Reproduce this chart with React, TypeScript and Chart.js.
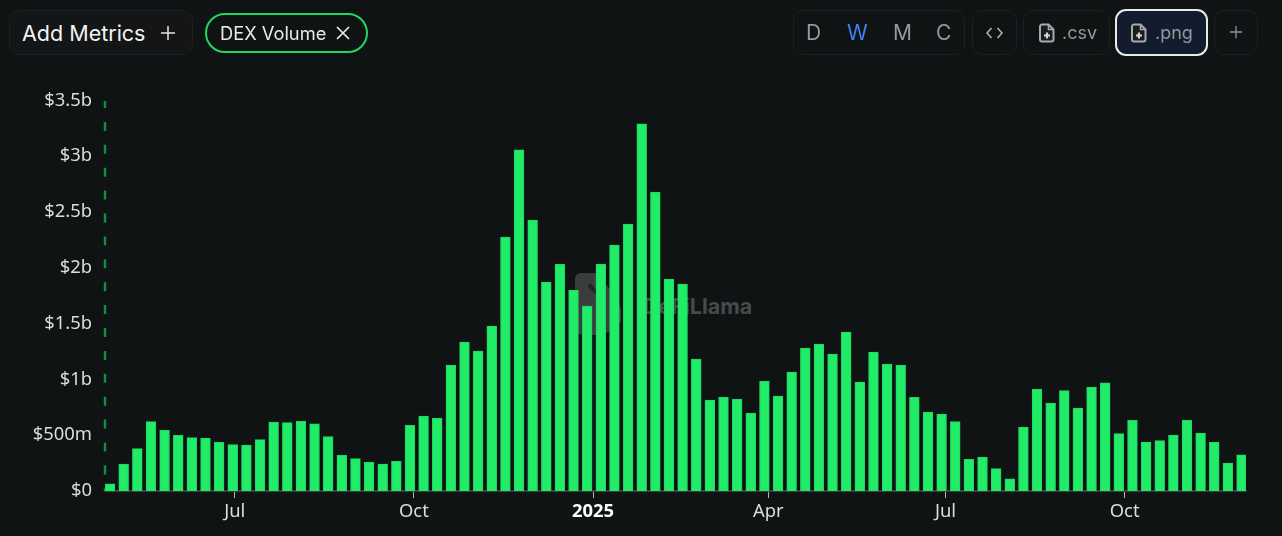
import React, { useEffect, useRef } from "react";
import { Chart, registerables } from "chart.js";

Chart.register(...registerables);

// Days since the first weekly bar (28 Apr 2024)
const weekDays = Array.from({ length: 84 }, (_, i) => i * 7);
const dexVolumeM = [
  65, 242, 379, 621, 544, 499, 478, 475, 436, 415, 412, 460, 618, 612, 624, 603, 487, 320, 290, 257, 242,
  266, 588, 672, 654, 1129, 1335, 1254, 1478, 2276, 3056, 2428, 1873, 2034, 1801, 1658, 2034, 2204, 2392,
  3289, 2679, 1900, 1855, 1183, 815, 842, 824, 699, 986, 851, 1066, 1281, 1317, 1228, 1425, 977, 1245, 1138,
  1129, 839, 708, 690, 621, 284, 305, 200, 108, 573, 914, 788, 899, 744, 932, 970, 514, 633, 439, 451, 502,
  633, 520, 436, 251, 325,
];
const xTickDays = [64, 156, 248, 338, 429, 521];
const xTickLabels = ["Jul", "Oct", "2025", "Apr", "Jul", "Oct"];
const yTickValues = [0, 500, 1000, 1500, 2000, 2500, 3000, 3500];
const yTickLabels = ["$0", "$500m", "$1b", "$1.5b", "$2b", "$2.5b", "$3b", "$3.5b"];
const intervals = ["D", "W", "M", "C"];

const FONT = "'Noto Sans', sans-serif";
const UI = "Inter, sans-serif";
const BG = "#101313";

const dashedAxis = {
  id: "dashedAxis",
  beforeDatasetsDraw(chart: any) {
    const { ctx, chartArea } = chart;
    ctx.save();
    ctx.strokeStyle = "#0f8f40";
    ctx.lineWidth = 2.4;
    ctx.setLineDash([9, 13.9]);
    ctx.lineDashOffset = 2;
    ctx.beginPath();
    ctx.moveTo(chartArea.left, chartArea.top + 0.6);
    ctx.lineTo(chartArea.left, chartArea.bottom);
    ctx.stroke();
    ctx.restore();
  },
};

const box = (left: number, top: number, width: number, height: number, extra: React.CSSProperties = {}): React.CSSProperties => ({
  position: "absolute",
  left,
  top,
  width,
  height,
  boxSizing: "border-box",
  border: "1px solid #1d2022",
  borderRadius: 10,
  ...extra,
});

const label = (left: number, top: number, text: string, style: React.CSSProperties = {}) => (
  <span
    key={text + left}
    style={{
      position: "absolute",
      left,
      top,
      fontFamily: UI,
      fontSize: 18,
      lineHeight: "24px",
      color: "#96999c",
      whiteSpace: "nowrap",
      ...style,
    }}
  >
    {text}
  </span>
);

const FileIcon = ({ left }: { left: number }) => (
  <svg style={{ position: "absolute", left, top: 23 }} width="16" height="20" viewBox="0 0 16 20" fill="none">
    <path d="M3 1.5h6.5l5 5v10a2 2 0 0 1-2 2H3a2 2 0 0 1-2-2v-13a2 2 0 0 1 2-2z" stroke="#a8abae" strokeWidth="2" fill="#1a1c1e" />
    <path d="M9.5 1.5v5h5" stroke="#a8abae" strokeWidth="1.6" />
    <path d="M8 9.5v6M5 12.5h6" stroke="#d5d6d7" strokeWidth="2.2" />
  </svg>
);

const Plus = ({ left, top, size, color }: { left: number; top: number; size: number; color: string }) => (
  <svg style={{ position: "absolute", left, top }} width={size} height={size} viewBox="0 0 16 16">
    <path d="M8 1v14M1 8h14" stroke={color} strokeWidth="1.5" />
  </svg>
);

export default function App() {
  const ref = useRef<HTMLCanvasElement>(null);

  useEffect(() => {
    document.body.style.margin = "0";
    document.body.style.background = BG;
    const chart = new Chart(ref.current as HTMLCanvasElement, {
      type: "bar",
      data: {
        datasets: [
          {
            label: "DEX Volume",
            data: weekDays.map((d, i) => ({ x: d, y: dexVolumeM[i] })),
            backgroundColor: "#20ec67",
            borderColor: "#1fd661",
            borderWidth: 1,
            barThickness: 9.8,
          },
        ],
      },
      options: {
        animation: false,
        responsive: false,
        layout: { padding: { top: 100.4, right: 36, bottom: 0, left: 0 } },
        plugins: { legend: { display: false }, tooltip: { enabled: false } },
        scales: {
          x: {
            type: "linear",
            min: -2.6,
            max: 583.3,
            offset: false,
            afterBuildTicks(scale: any) {
              scale.ticks = xTickDays.map((value) => ({ value }));
            },
            afterFit(scale: any) {
              scale.height = 45;
            },
            grid: { offset: false, drawOnChartArea: false, drawTicks: true, tickLength: 7, tickColor: "#b5b5b5", tickWidth: 1 },
            border: { display: true, color: "#3a3c3f", width: 2 },
            ticks: {
              autoSkip: false,
              maxRotation: 0,
              padding: 3,
              color: (ctx: any) => (ctx.index === 2 ? "#ffffff" : "#dcdddd"),
              font: (ctx: any) => ({ family: FONT, size: 18.4, weight: ctx.index === 2 ? "bold" : "normal" }),
              callback: (value: any) => xTickLabels[xTickDays.indexOf(Number(value))],
            },
          },
          y: {
            min: 0,
            max: 3500,
            afterBuildTicks(scale: any) {
              scale.ticks = yTickValues.map((value) => ({ value }));
            },
            afterFit(scale: any) {
              scale.width = 105;
            },
            grid: { display: false },
            border: { display: false },
            ticks: {
              autoSkip: false,
              padding: 5,
              color: "#dcdddd",
              font: { family: FONT, size: 18.4 },
              callback: (value: any) => yTickLabels[yTickValues.indexOf(Number(value))],
            },
          },
        },
      },
      plugins: [dashedAxis],
    } as any);
    return () => chart.destroy();
  }, []);

  return (
    <div style={{ position: "absolute", left: 0, top: 0, width: 1282, height: 536, background: BG, overflow: "hidden" }}>
      {/* Watermark behind the bars */}
      <svg style={{ position: "absolute", left: 575, top: 273 }} width="46" height="62" viewBox="0 0 46 62">
        <path d="M6 0h14l8 8 12 14 6 14v12l-8 8-10 6H8a8 8 0 0 1-8-8V6a6 6 0 0 1 6-6z" fill="#3a3c3d" />
        <path d="M14 12l14 14-6 10" stroke="#222425" strokeWidth="4" fill="none" />
      </svg>
      {label(643, 294, "DeFiLlama", { fontSize: 21.5, fontWeight: 700, color: "#47494a" })}

      <canvas ref={ref} width={1282} height={536} style={{ position: "absolute", left: 0, top: 0, display: "block" }} />

      <div style={box(9, 10, 184, 45, { background: "#131516" })} />
      {label(22, 21, "Add Metrics", { fontSize: 21.5, color: "#f2f3f3" })}
      <Plus left={160} top={25} size={16} color="#e4e5e5" />

      <div style={box(205, 13, 163, 40, { border: "2px solid #1fd761", borderRadius: 20 })} />
      {label(220, 21, "DEX Volume", { fontSize: 18.3, color: "#e9eaea" })}
      <svg style={{ position: "absolute", left: 336, top: 26 }} width="14" height="14" viewBox="0 0 14 14">
        <path d="M1 1l12 12M13 1L1 13" stroke="#f0f0f0" strokeWidth="1.6" />
      </svg>

      <div style={box(793, 10, 172, 45)} />
      {intervals.map((t, i) =>
        label([806, 847, 893, 936][i], 21, t, { fontSize: 21, color: t === "W" ? "#3f82f8" : "#96999c" })
      )}
      <div style={box(972, 10, 45, 45)} />
      <svg style={{ position: "absolute", left: 986, top: 27 }} width="17" height="12" viewBox="0 0 17 12" fill="none">
        <path d="M5.5 1L1 6l4.5 5M11.5 1L16 6l-4.5 5" stroke="#b0b2b4" strokeWidth="1.6" />
      </svg>
      <div style={box(1023, 10, 87, 45)} />
      <FileIcon left={1039} />
      {label(1062, 21, ".csv")}
      <div style={box(1115, 9, 93, 47, { background: "#131c2e", border: "2px solid #e8eaec", borderRadius: 11 })} />
      <FileIcon left={1131} />
      {label(1155, 21, ".png")}
      <div style={box(1214, 10, 44, 45)} />
      <Plus left={1229} top={25} size={14} color="#8f9296" />
    </div>
  );
}
